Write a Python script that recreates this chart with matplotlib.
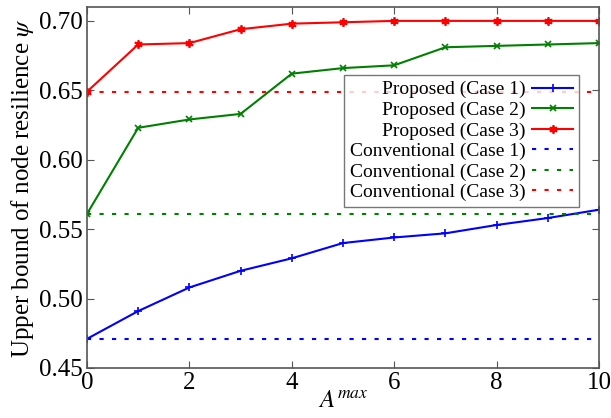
import matplotlib
matplotlib.use("Agg")
import matplotlib.pyplot as plt
import numpy as np

x = np.arange(0, 11)
prop_case1 = [0.471, 0.491, 0.508, 0.520, 0.529, 0.540, 0.544, 0.547, 0.553, 0.558, 0.564]
prop_case2 = [0.561, 0.623, 0.629, 0.633, 0.662, 0.666, 0.668, 0.681, 0.682, 0.683, 0.684]
prop_case3 = [0.649, 0.683, 0.684, 0.694, 0.698, 0.699, 0.700, 0.700, 0.700, 0.700, 0.700]
conv_case1 = 0.471
conv_case2 = 0.561
conv_case3 = 0.649

plt.rcParams['font.family'] = ['Liberation Serif', 'DejaVu Serif']
plt.rcParams['mathtext.fontset'] = 'stix'

fig = plt.figure(figsize=(6.11, 4.18), dpi=100)
ax = fig.add_axes([87/611, 1-368/418, (599-87)/611, (368-7)/418])

ax.plot(x, prop_case1, color='blue', marker='+', ms=6, mew=1.2, lw=1.5, label='Proposed (Case 1)')
ax.plot(x, prop_case2, color='green', marker='x', ms=5, mew=1.2, lw=1.5, label='Proposed (Case 2)')
ax.plot(x, prop_case3, color='red', marker=(6, 2, 0), ms=6, mew=1.3, lw=1.5, label='Proposed (Case 3)')
ax.plot(x, [conv_case1]*len(x), color='blue', ls=(0, (2, 4)), lw=1.5, label='Conventional (Case 1)')
ax.plot(x, [conv_case2]*len(x), color='green', ls=(0, (2, 4)), lw=1.5, label='Conventional (Case 2)')
ax.plot(x, [conv_case3]*len(x), color='red', ls=(0, (2, 4)), lw=1.5, label='Conventional (Case 3)')

ax.set_xlim(0, 10)
ax.set_ylim(0.45, 0.71)
ax.set_xticks([0, 2, 4, 6, 8, 10])
ax.set_yticks([0.45, 0.50, 0.55, 0.60, 0.65, 0.70])
ax.set_yticklabels(['0.45', '0.50', '0.55', '0.60', '0.65', '0.70'])
ax.tick_params(direction='in', top=True, right=True, labelsize=18, length=5, color='#555555', pad=3)
for s in ax.spines.values():
    s.set_color('#555555')
    s.set_linewidth(1.2)

ax.set_xlabel(r'$A^{max}$', fontsize=18, labelpad=-3)
ax.set_ylabel(r'Upper bound of node resilience $\psi$', fontsize=18, labelpad=2)

# legend: labels on the left, right aligned, handles on the right
leg = ax.legend(loc='upper right', bbox_to_anchor=(0.961, 0.812), borderaxespad=0,
                markerfirst=False, fontsize=14, frameon=True, fancybox=False,
                handlelength=2.1, borderpad=0.3, labelspacing=0.15, handletextpad=0.35)
leg.get_frame().set_edgecolor('#555555')
leg.get_frame().set_linewidth(1.0)
for t in leg.get_texts():
    t.set_ha('right')

fig.savefig('out.png', dpi=100)
